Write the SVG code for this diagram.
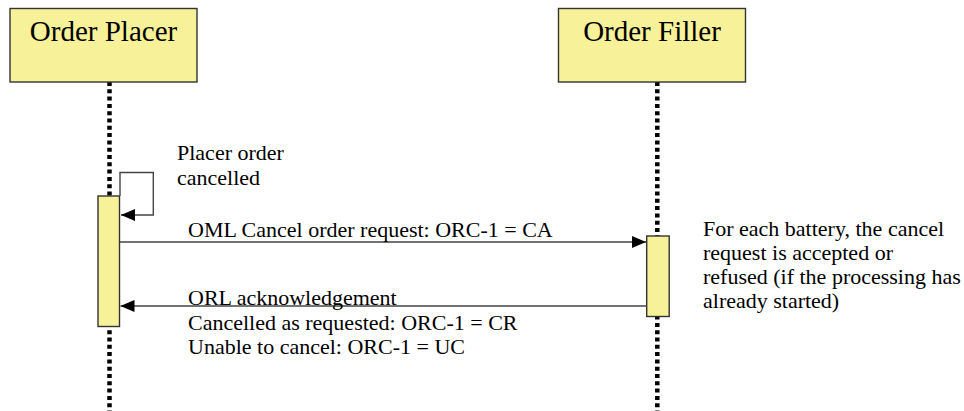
<svg xmlns="http://www.w3.org/2000/svg" width="964" height="411" viewBox="0 0 964 411">
<defs>
<style>
.hdr{fill:#F7F199;stroke:#333;stroke-width:1.4}
.act{fill:#F7F199;stroke:#333;stroke-width:1.4}
.life{stroke:#000;stroke-width:4.5;stroke-dasharray:4 3.3;fill:none}
.msg{stroke:#444;stroke-width:1.4;fill:none}
.t{font-family:"Liberation Serif","Times New Roman",serif;font-size:22px;fill:#000}
.title{font-family:"Liberation Serif","Times New Roman",serif;font-size:29px;fill:#000;text-anchor:middle}
</style>
<marker id="ah" markerWidth="14" markerHeight="12" refX="14" refY="6" orient="auto" markerUnits="userSpaceOnUse">
<path d="M0,0 L14,6 L0,12 Z" fill="#000"/>
</marker>
</defs>
<rect width="964" height="411" fill="#fff"/>
<g id="placer">
<line class="life" x1="109.5" y1="82" x2="109.5" y2="411"/>
<rect class="hdr" x="10" y="8.5" width="187" height="73.5"/>
<text class="title" x="103.5" y="41">Order Placer</text>
<rect class="act" x="98" y="196" width="21.5" height="130.5"/>
</g>
<g id="filler">
<line class="life" x1="657.3" y1="82" x2="657.3" y2="411"/>
<rect class="hdr" x="558.5" y="8.5" width="187" height="73.5"/>
<text class="title" x="652" y="41">Order Filler</text>
<rect class="act" x="646.7" y="236" width="22.5" height="80.5"/>
</g>
<g id="connectors">
<path class="msg" d="M120,196 L120,172.5 L153.3,172.5 L153.3,215 L121,215" marker-end="url(#ah)"/>
<line class="msg" x1="119.5" y1="242" x2="646" y2="242" marker-end="url(#ah)"/>
<line class="msg" x1="646.7" y1="306" x2="120.5" y2="306" marker-end="url(#ah)"/>
</g>
<g id="labels">
<text class="t" x="177" y="160">Placer order</text>
<text class="t" x="177" y="185">cancelled</text>
<text class="t" x="188" y="237">OML Cancel order request: ORC-1 = CA</text>
<text class="t" x="188" y="305">ORL acknowledgement</text>
<text class="t" x="188" y="330">Cancelled as requested: ORC-1 = CR</text>
<text class="t" x="188" y="354">Unable to cancel: ORC-1 = UC</text>
<text class="t" x="703" y="236">For each battery, the cancel</text>
<text class="t" x="703" y="260">request is accepted or</text>
<text class="t" x="703" y="284">refused (if the processing has</text>
<text class="t" x="703" y="308">already started)</text>
</g>
</svg>
